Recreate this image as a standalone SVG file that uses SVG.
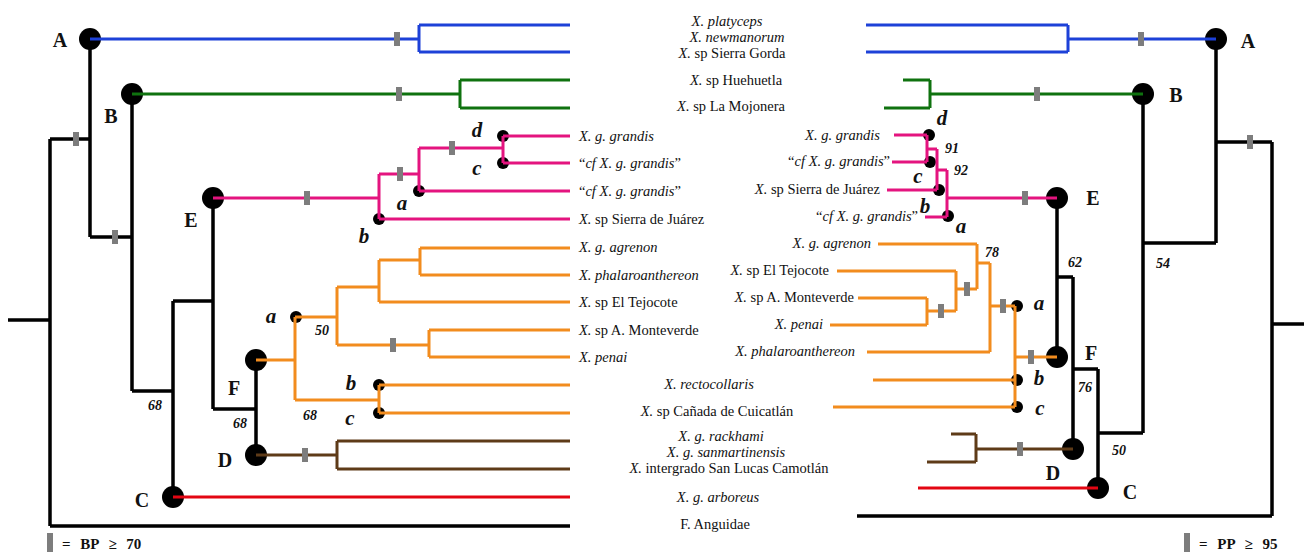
<svg xmlns="http://www.w3.org/2000/svg" width="1307" height="553" viewBox="0 0 1307 553">
<style>
path{fill:none;stroke-linecap:butt;stroke-linejoin:miter}
.k{stroke:#000;stroke-width:3.5}
.bl{stroke:#1d41d8;stroke-width:3}
.gr{stroke:#0f720f;stroke-width:3}
.pk{stroke:#e4147f;stroke-width:3}
.or{stroke:#f28c1e;stroke-width:3}
.br{stroke:#5e3b18;stroke-width:3}
.rd{stroke:#e30613;stroke-width:3}
.tk{fill:#7d7d7d}
.nb{fill:#000}
text{font-family:"Liberation Serif","Times New Roman",serif;fill:#111}
.lb{font-size:14.5px}
.i{font-style:italic}
.L{font-size:20px;font-weight:bold}
.s{font-size:21px;font-weight:bold;font-style:italic}
.n{font-size:14px;font-weight:bold;font-style:italic}
.lg{font-size:15px;font-weight:bold;word-spacing:6px}
.m{text-anchor:middle}
.e{text-anchor:end}
</style>
<defs>
<rect id="tick" class="tk" x="-3" y="-7" width="6" height="14"/>
<circle id="N" r="11" class="nb"/>
<circle id="n" r="6" class="nb"/>
</defs>

<g id="connectors">
<path class="k" d="M8,320 H50 M50,139 V526 M50,139 H90 M90,39 V237 M90,237 H132 M132,94 V391 M132,391 H173 M173,301 V497 M173,301 H213 M213,198 V409 M213,409 H256 M256,360 V455 M50,526 H570"/>
<path class="k" d="M1272,324 H1304 M1272,142 V516 M1216,142 H1272 M1216,39 V243 M1143,243 H1216 M1143,94 V433 M1098,433 H1143 M1098,369 V488 M1073,369 H1098 M1073,277 V449 M1057,277 H1073 M1057,198 V357 M857,516 H1272"/>
</g>

<g id="nodes-left">
<g id="L-A"><use href="#N" x="90" y="39"/><text class="L m" x="60" y="47">A</text></g>
<g id="L-B"><use href="#N" x="132" y="94"/><text class="L m" x="111" y="123">B</text></g>
<g id="L-E"><use href="#N" x="213" y="198"/><text class="L m" x="191" y="227">E</text></g>
<g id="L-F"><use href="#N" x="256" y="360"/><text class="L m" x="234" y="395">F</text></g>
<g id="L-D"><use href="#N" x="256" y="455"/><text class="L m" x="225" y="467">D</text></g>
<g id="L-C"><use href="#N" x="173" y="497"/><text class="L m" x="142" y="507">C</text></g>
<g id="L-pd"><use href="#n" x="503" y="136"/><text class="s m" x="477" y="137">d</text></g>
<g id="L-pc"><use href="#n" x="503" y="163"/><text class="s m" x="477" y="175">c</text></g>
<g id="L-pa"><use href="#n" x="419" y="191"/><text class="s m" x="402" y="210">a</text></g>
<g id="L-pb"><use href="#n" x="379" y="219"/><text class="s m" x="364" y="243">b</text></g>
<g id="L-oa"><use href="#n" x="296" y="317"/><text class="s m" x="271" y="323">a</text></g>
<g id="L-ob"><use href="#n" x="379" y="385"/><text class="s m" x="351" y="390">b</text></g>
<g id="L-oc"><use href="#n" x="379" y="413"/><text class="s m" x="350" y="425">c</text></g>
</g>

<g id="nodes-right">
<g id="R-A"><use href="#N" x="1216" y="39"/><text class="L m" x="1248" y="48">A</text></g>
<g id="R-B"><use href="#N" x="1143" y="94"/><text class="L m" x="1176" y="102">B</text></g>
<g id="R-E"><use href="#N" x="1057" y="198"/><text class="L m" x="1093" y="205">E</text></g>
<g id="R-F"><use href="#N" x="1057" y="357"/><text class="L m" x="1091" y="360">F</text></g>
<g id="R-D"><use href="#N" x="1073" y="449"/><text class="L m" x="1053" y="480">D</text></g>
<g id="R-C"><use href="#N" x="1098" y="488"/><text class="L m" x="1130" y="499">C</text></g>
<g id="R-pd"><use href="#n" x="929" y="135"/><text class="s m" x="942" y="125">d</text></g>
<g id="R-pc"><use href="#n" x="930" y="162"/><text class="s m" x="918" y="183">c</text></g>
<g id="R-pb"><use href="#n" x="939" y="190"/><text class="s m" x="925" y="213">b</text></g>
<g id="R-pa"><use href="#n" x="948" y="216"/><text class="s m" x="961" y="233">a</text></g>
<g id="R-oa"><use href="#n" x="1017" y="306"/><text class="s m" x="1039" y="310">a</text></g>
<g id="R-ob"><use href="#n" x="1017" y="380"/><text class="s m" x="1039" y="385">b</text></g>
<g id="R-oc"><use href="#n" x="1017" y="407"/><text class="s m" x="1040" y="415">c</text></g>
</g>

<g id="clades">
<path class="bl" d="M90,39 H419 M419,25 V52 M419,25 H570 M419,52 H570"/>
<path class="gr" d="M132,94 H460 M460,80 V108 M460,80 H570 M460,108 H570"/>
<path class="pk" d="M213,198 H379 M379,174 V219 M379,174 H419 M419,148 V191 M419,148 H503 M503,136 V163 M503,136 H570 M503,163 H570 M419,191 H570 M379,219 H570"/>
<path class="or" d="M256,360 H295 M295,317 V400 M295,317 H337 M337,287 V345 M337,287 H379 M379,260 V302 M379,260 H420 M420,248 V275 M420,248 H570 M420,275 H570 M379,302 H570 M337,345 H429 M429,330 V357 M429,330 H570 M429,357 H570 M295,400 H379 M379,385 V413 M379,385 H570 M379,413 H570"/>
<path class="br" d="M256,455 H337 M337,441 V469 M337,441 H570 M337,469 H570"/>
<path class="rd" d="M173,497 H570"/>
<path class="bl" d="M866,25 H1068 M866,52 H1068 M1068,25 V52 M1068,39 H1216"/>
<path class="gr" d="M903,80 H930 M884,108 H930 M930,80 V108 M930,94 H1143"/>
<path class="pk" d="M894,135 H927 M892,162 H927 M927,135 V162 M927,149 H937 M887,190 H937 M937,149 V190 M937,170 H947 M925,217 H947 M947,170 V217 M947,198 H1057"/>
<path class="or" d="M878,244 H977 M837,271 H956 M858,298 H927 M830,325 H927 M927,298 V325 M927,311 H956 M956,271 V311 M956,289 H977 M977,244 V289 M977,263 H990 M867,352 H990 M990,263 V352 M990,306 H1015 M1015,306 V407 M873,380 H1015 M833,407 H1015 M1015,357 H1057"/>
<path class="br" d="M951,434 H976 M927,462 H976 M976,434 V462 M976,449 H1073"/>
<path class="rd" d="M918,488 H1098"/>
</g>

<g id="support">
<use href="#tick" x="76" y="139"/>
<use href="#tick" x="115" y="237"/>
<use href="#tick" x="397" y="39"/>
<use href="#tick" x="399" y="94"/>
<use href="#tick" x="307" y="198"/>
<use href="#tick" x="400" y="174"/>
<use href="#tick" x="452" y="148"/>
<use href="#tick" x="393" y="345"/>
<use href="#tick" x="305" y="455"/>
<use href="#tick" x="1250" y="142"/>
<use href="#tick" x="1141" y="39"/>
<use href="#tick" x="1037" y="94"/>
<use href="#tick" x="1025" y="198"/>
<use href="#tick" x="941" y="311"/>
<use href="#tick" x="967" y="289"/>
<use href="#tick" x="1003" y="306"/>
<use href="#tick" x="1031" y="357"/>
<use href="#tick" x="1020" y="449"/>
<text class="n m" x="155" y="410">68</text>
<text class="n m" x="240" y="428">68</text>
<text class="n m" x="322" y="335">50</text>
<text class="n m" x="310" y="420">68</text>
<text class="n m" x="952" y="153">91</text>
<text class="n m" x="961" y="175">92</text>
<text class="n m" x="992" y="257">78</text>
<text class="n m" x="1075" y="267">62</text>
<text class="n m" x="1163" y="268">54</text>
<text class="n m" x="1085" y="392">76</text>
<text class="n m" x="1119" y="455">50</text>
</g>

<g id="taxa">
<text class="lb m i" x="727" y="26">X. platyceps</text>
<text class="lb m i" x="737" y="42">X. newmanorum</text>
<text class="lb m" x="732" y="58"><tspan class="i">X.</tspan> sp Sierra Gorda</text>
<text class="lb m" x="736" y="85"><tspan class="i">X.</tspan> sp Huehuetla</text>
<text class="lb m" x="731" y="111"><tspan class="i">X.</tspan> sp La Mojonera</text>
<text class="lb i" x="579" y="141">X. g. grandis</text>
<text class="lb" x="579" y="168">“<tspan class="i">cf X. g. grandis</tspan>”</text>
<text class="lb" x="579" y="196">“<tspan class="i">cf X. g. grandis</tspan>”</text>
<text class="lb" x="579" y="224"><tspan class="i">X.</tspan> sp Sierra de Juárez</text>
<text class="lb i" x="579" y="252">X. g. agrenon</text>
<text class="lb i" x="579" y="280">X. phalaroanthereon</text>
<text class="lb" x="579" y="307"><tspan class="i">X.</tspan> sp El Tejocote</text>
<text class="lb" x="579" y="335"><tspan class="i">X.</tspan> sp A. Monteverde</text>
<text class="lb i" x="579" y="362">X. penai</text>
<text class="lb e i" x="880" y="140">X. g. grandis</text>
<text class="lb e" x="890" y="166">“<tspan class="i">cf X. g. grandis</tspan>”</text>
<text class="lb e" x="880" y="194"><tspan class="i">X.</tspan> sp Sierra de Juárez</text>
<text class="lb e" x="918" y="221">“<tspan class="i">cf X. g. grandis</tspan>”</text>
<text class="lb e i" x="871" y="248">X. g. agrenon</text>
<text class="lb e" x="829" y="275"><tspan class="i">X.</tspan> sp El Tejocote</text>
<text class="lb e" x="854" y="302"><tspan class="i">X.</tspan> sp A. Monteverde</text>
<text class="lb e i" x="823" y="329">X. penai</text>
<text class="lb e i" x="855" y="356">X. phalaroanthereon</text>
<text class="lb m i" x="709" y="389">X. rectocollaris</text>
<text class="lb m" x="717" y="416"><tspan class="i">X.</tspan> sp Cañada de Cuicatlán</text>
<text class="lb m i" x="721" y="441">X. g. rackhami</text>
<text class="lb m i" x="726" y="457">X. g. sanmartinensis</text>
<text class="lb m" x="729" y="473"><tspan class="i">X.</tspan> intergrado San Lucas Camotlán</text>
<text class="lb m i" x="718" y="502">X. g. arboreus</text>
<text class="lb m" x="715" y="529">F. Anguidae</text>
</g>

<g id="legend">
<rect class="tk" x="47" y="533" width="6" height="19"/>
<text class="lg" x="62" y="549">= BP ≥ 70</text>
<rect class="tk" x="1184" y="533" width="6" height="19"/>
<text class="lg" x="1199" y="549">= PP ≥ 95</text>
</g>
</svg>
